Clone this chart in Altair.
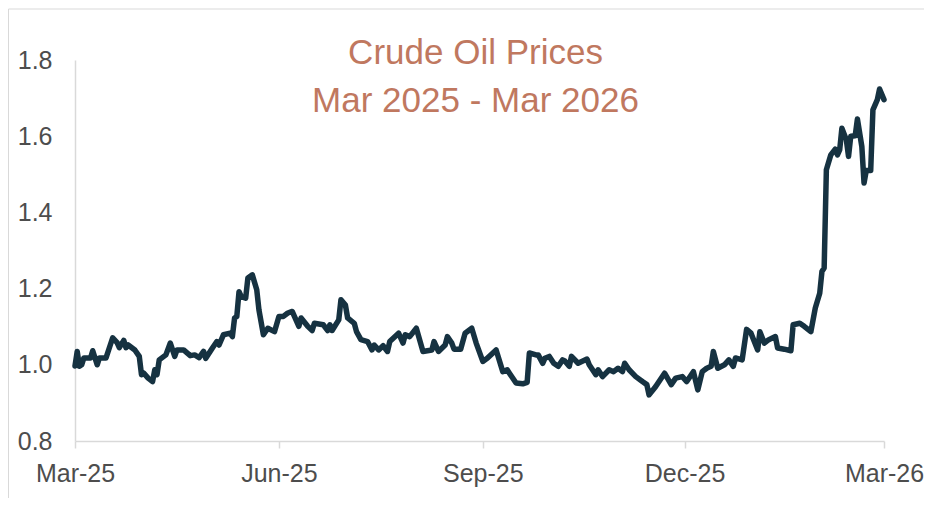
import altair as alt
import pandas as pd

# Days since 1 Mar 2025 and index value
days = [0, 1, 2, 3, 4, 7, 8, 10, 11, 14, 17, 19, 20, 22, 23, 24, 27, 29, 30, 31,
        33, 35, 36, 37, 38, 41, 43, 45, 46, 49, 52, 54, 56, 58, 59, 62, 64, 65, 67, 70,
        71, 72, 73, 74, 75, 77, 78, 80, 82, 83, 85, 87, 90, 92, 94, 96, 98, 101, 102, 105,
        107, 108, 112, 114, 115, 116, 119, 120, 122, 123, 126, 127, 129, 132, 134, 135, 137, 139, 141, 142,
        146, 148, 149, 151, 154, 157, 161, 162, 164, 167, 168, 170, 171, 174, 176, 179, 181, 184, 186, 190,
        193, 195, 196, 199, 202, 204, 205, 208, 209, 211, 212, 214, 216, 218, 220, 221, 223, 224, 227, 231,
        232, 235, 236, 238, 241, 243, 245, 247, 248, 250, 253, 256, 258, 259, 262, 266, 269, 271, 274, 276,
        279, 281, 283, 285, 287, 288, 290, 293, 295, 297, 298, 301, 303, 305, 308, 309, 311, 313, 316, 317,
        320, 323, 324, 327, 329, 332, 334, 336, 337, 338, 339, 341, 343, 344, 345, 346, 348, 349, 350, 352,
        353, 355, 356, 357, 359, 360, 362, 363, 365]
values = [0.997, 1.035, 0.996, 1.000, 1.018, 1.018, 1.037, 1.000, 1.018, 1.018, 1.071, 1.058, 1.045, 1.064, 1.045, 1.052, 1.039, 1.022, 0.974, 0.978,
          0.965, 0.956, 0.987, 0.974, 1.013, 1.026, 1.057, 1.022, 1.039, 1.039, 1.024, 1.026, 1.019, 1.035, 1.017, 1.044, 1.061, 1.052, 1.079, 1.083,
          1.074, 1.123, 1.127, 1.192, 1.179, 1.175, 1.228, 1.236, 1.197, 1.144, 1.079, 1.096, 1.087, 1.127, 1.127, 1.136, 1.140, 1.101, 1.123, 1.101,
          1.090, 1.109, 1.105, 1.090, 1.105, 1.090, 1.118, 1.171, 1.157, 1.123, 1.109, 1.087, 1.066, 1.061, 1.039, 1.052, 1.039, 1.050, 1.035, 1.061,
          1.083, 1.057, 1.079, 1.074, 1.096, 1.035, 1.039, 1.061, 1.035, 1.052, 1.074, 1.057, 1.041, 1.041, 1.083, 1.096, 1.057, 1.009, 1.017, 1.039,
          0.982, 0.987, 0.978, 0.952, 0.950, 0.954, 1.031, 1.026, 1.026, 1.004, 1.017, 1.022, 1.004, 0.996, 1.013, 1.010, 0.996, 1.022, 1.004, 1.015,
          1.000, 0.974, 0.987, 0.969, 0.987, 0.982, 0.991, 0.982, 1.004, 0.987, 0.969, 0.956, 0.948, 0.921, 0.943, 0.978, 0.948, 0.965, 0.969, 0.956,
          0.982, 0.934, 0.982, 0.991, 0.996, 1.035, 0.991, 1.000, 1.013, 0.996, 1.018, 1.013, 1.093, 1.083, 1.039, 1.087, 1.057, 1.066, 1.074, 1.044,
          1.041, 1.037, 1.105, 1.109, 1.101, 1.087, 1.149, 1.188, 1.245, 1.254, 1.512, 1.551, 1.566, 1.551, 1.564, 1.621, 1.591, 1.547, 1.600, 1.601,
          1.645, 1.573, 1.477, 1.510, 1.510, 1.669, 1.696, 1.724, 1.696]

title_lines = ["Crude Oil Prices", "Mar 2025 - Mar 2026"]
x_ticks = ["2025-03-01", "2025-06-01", "2025-09-01", "2025-12-01", "2026-03-01"]
y_ticks = [0.8, 1.0, 1.2, 1.4, 1.6, 1.8]

start = pd.Timestamp("2025-03-01")
df = pd.DataFrame({
    "date": [start + pd.Timedelta(days=d) for d in days],
    "value": values,
})

W, H = 809, 381
PL, PT, PR, PB = 67, 52, 40, 57
FONT = "Liberation Sans"

line = alt.Chart(df).mark_line(
    color="#163241", strokeWidth=5.5, strokeCap="round", strokeJoin="round"
).encode(
    x=alt.X("date:T",
            scale=alt.Scale(domain=[x_ticks[0], x_ticks[-1]]),
            axis=alt.Axis(values=x_ticks, format="%b-%y", title=None, grid=False,
                          domainColor="#d9d9d9", domainWidth=1.5,
                          tickColor="#d9d9d9", tickSize=7, tickWidth=1.5,
                          labelFont=FONT, labelFontSize=25, labelColor="#4d4d4d",
                          labelPadding=13, labelFlush=False)),
    y=alt.Y("value:Q",
            scale=alt.Scale(domain=[0.8, 1.8], nice=False, zero=False),
            axis=alt.Axis(values=y_ticks, format=".1f", title=None, grid=False,
                          ticks=False, domainColor="#d9d9d9", domainWidth=1.5,
                          labelFont=FONT, labelFontSize=25, labelColor="#4d4d4d",
                          labelPadding=23)),
)

border = alt.Chart(pd.DataFrame({"k": [0]})).mark_rect(
    fill=None, stroke="#d9d9d9", strokeWidth=1
).encode(
    x=alt.value(-PL + 0.5), x2=alt.value(W + PR + 20),
    y=alt.value(-PT + 1), y2=alt.value(H + PB + 20),
)

chart = alt.layer(border, line).properties(
    width=W, height=H,
    autosize=alt.AutoSizeParams(type="none"),
    padding={"left": PL, "top": PT, "right": PR, "bottom": PB},
    title=alt.TitleParams(
        text=title_lines, font=FONT, fontSize=35, fontWeight="normal",
        color="#C0785F", lineHeight=48, anchor="middle", frame="group",
        baseline="top", offset=-110, dx=-4,
    ),
).configure_view(stroke=None)

chart.save("out.html", embed_options={"renderer": "svg", "actions": False})
